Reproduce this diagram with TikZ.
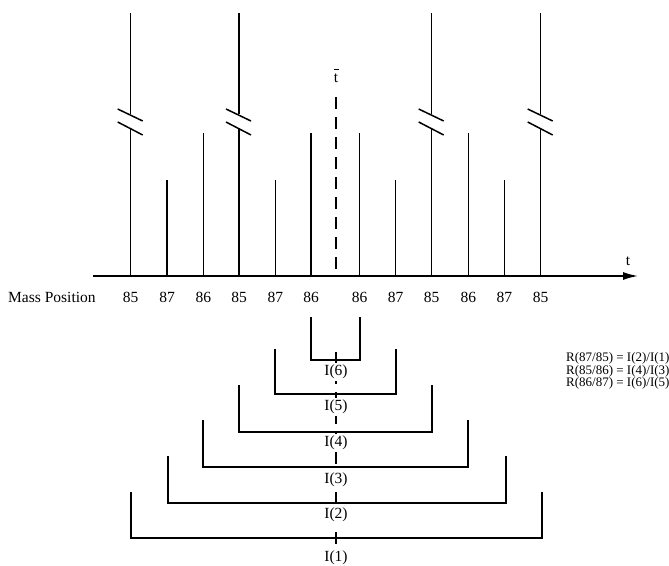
\documentclass[tikz,border=0pt]{standalone}
\usepackage{fontspec}
\setmainfont{Liberation Serif}
\usetikzlibrary{arrows.meta}
\begin{document}
\begin{tikzpicture}[x=1pt,y=-1pt,
  peak/.style={line width=1.5pt},
  axisline/.style={line width=1.5pt,-{Latex[length=15pt,width=8pt]}},
  brk/.style={line width=1.5pt},
  centerline/.style={line width=1.3pt,dash pattern=on 12pt off 8pt},
  bracketline/.style={line width=1.2pt},
  lbl/.style={font=\fontsize{15.5}{17}\selectfont,inner sep=1pt},
  ilbl/.style={font=\fontsize{15.5}{17}\selectfont,fill=white,inner sep=1.5pt},
  ratio/.style={font=\fontsize{13}{11.5}\selectfont,align=left,inner sep=0pt}]
\useasboundingbox (0,0) rectangle (669,565);
% axis
\coordinate (a0) at (93,276);
\coordinate (a1) at (638,276);
\draw[axisline] (a0) -- (a1);
\node[lbl] (tlab) at (628,261) {t};
% tall peaks with breaks
\foreach \x [count=\i] in {130.7,239,431.7,540.7}{
  \coordinate (tb\i) at (\x,276);
  \coordinate (tt\i) at (\x,13);
  \draw[peak] (tt\i) -- (\x,114);
  \draw[peak] (\x,128) -- (tb\i);
  \draw[brk] (\x-13,109) -- (\x+12,121);
  \draw[brk] (\x-13,122) -- (\x+12,135);
}
% medium peaks
\foreach \x [count=\i] in {203.3,311,359.5,468.3}{
  \coordinate (mb\i) at (\x,276);
  \coordinate (mt\i) at (\x,133);
  \draw[peak] (mt\i) -- (mb\i);
}
% short peaks
\foreach \x [count=\i] in {167,275.3,395.7,504.3}{
  \coordinate (sb\i) at (\x,276);
  \coordinate (st\i) at (\x,180);
  \draw[peak] (st\i) -- (sb\i);
}
% center dashed line (top) with t-bar label
\node[lbl] (tbar) at (336,78) {t};
\draw[line width=0.8pt] ([xshift=-2.5pt,yshift=3pt]tbar.north) -- ([xshift=2.5pt,yshift=3pt]tbar.north);
\coordinate (c0) at (336,97);
\coordinate (c1) at (336,276);
\draw[centerline] (c0) -- (c1);
% mass labels
\node[lbl,anchor=west] (mp) at (7,297) {Mass Position};
\foreach \x/\m [count=\i] in {130.7/85,167/87,203.3/86,239/85,275.3/87,311/86,359.5/86,395.7/87,431.7/85,468.3/86,504.3/87,540.7/85}{
  \node[lbl] (m\i) at (\x,297) {\m};
}
% lower dashed center line
\coordinate (d0) at (336,352);
\coordinate (d1) at (336,545);
\draw[centerline] (d0) -- (d1);
% brackets
\foreach \l/\r/\t/\b/\ly/\n in {311/360/317/360/372/6,275/396/349/394/407/5,239/432/385/432/443/4,203/468/420/467/480/3,168/506/456/503/515/2,131/542/492/538/558/1}{
  \coordinate (bl\n) at (\l,\t);
  \coordinate (br\n) at (\r,\t);
  \draw[bracketline] (bl\n) -- (\l,\b) -- (\r,\b) -- (br\n);
  \node[ilbl] (I\n) at (336,\ly) {I(\n)};
}
% ratios
\node[ratio,anchor=north west] (rat) at (566,352) {R(87/85) = I(2)/I(1)\\R(85/86) = I(4)/I(3)\\R(86/87) = I(6)/I(5)};
\end{tikzpicture}
\end{document}
